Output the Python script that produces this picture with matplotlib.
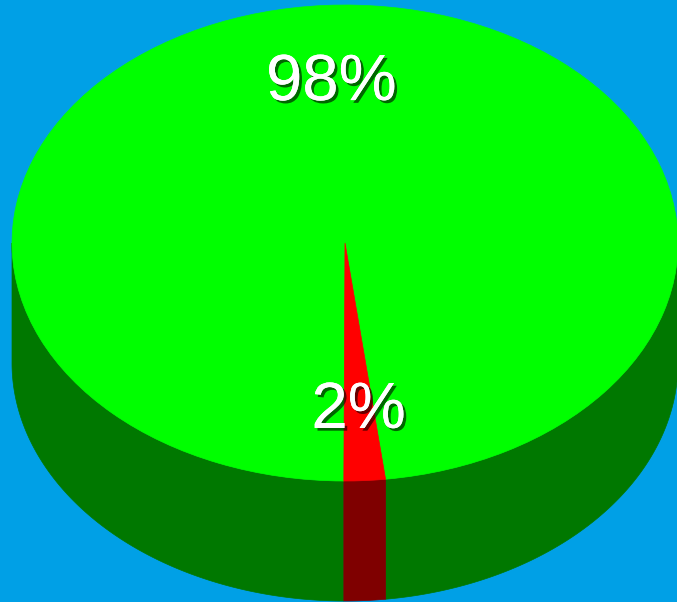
import numpy as np
import matplotlib.pyplot as plt
import matplotlib.patches as mpatches
import matplotlib.patheffects as pe
from matplotlib.transforms import Affine2D

# slice data
labels = ["98%", "2%"]
values = [98, 2]
top_colors = ["#00ff00", "#ff0000"]
side_colors = ["#007800", "#7f0000"]

BG = "#00a0e6"
W, H = 677, 602
cx, cy = 345, 243       # centre of the top face, pixels
rx, ry = 333, 238       # ellipse half-axes
depth = 120             # height of the cylinder wall
start = -83.0           # degrees, counter-clockwise
label_r = 0.69

fig = plt.figure(figsize=(W / 100, H / 100), dpi=100)
fig.patch.set_facecolor(BG)
ax = fig.add_axes([0, 0, 1, 1])
ax.set_xlim(0, W)
ax.set_ylim(H, 0)
ax.axis("off")

fracs = np.array(values, dtype=float) / sum(values)
spans = fracs * 360
starts = start + np.concatenate([[0], np.cumsum(spans)[:-1]])


def ell(theta, dy=0.0):
    t = np.radians(theta)
    return cx + rx * np.cos(t), cy - ry * np.sin(t) + dy


# front walls: only the lower half of the ellipse is visible
for a0, sp, col in zip(starts, spans, side_colors):
    a1 = a0 + sp
    for k in range(-1, 2):
        lo = max(a0, 180 + 360 * k)
        hi = min(a1, 360 + 360 * k)
        if hi <= lo:
            continue
        th = np.linspace(lo, hi, 200)
        xt, yt = ell(th)
        xb, yb = ell(th[::-1], depth)
        pts = np.column_stack([np.r_[xt, xb], np.r_[yt, yb]])
        ax.add_patch(mpatches.Polygon(pts, closed=True, facecolor=col,
                                      edgecolor=col, lw=0.5))

# top face wedges on a unit circle squashed into the ellipse
to_px = Affine2D().scale(rx, -ry).translate(cx, cy) + ax.transData
for a0, sp, col in zip(starts, spans, top_colors):
    w = mpatches.Wedge((0, 0), 1, a0, a0 + sp, facecolor=col,
                       edgecolor=col, lw=0.5, transform=to_px)
    ax.add_patch(w)

shadow = [pe.withSimplePatchShadow(offset=(2, -2), shadow_rgbFace="black",
                                   alpha=0.6), pe.Normal()]
for a0, sp, lab in zip(starts, spans, labels):
    x, y = ell(a0 + sp / 2)
    x = cx + (x - cx) * label_r
    y = cy + (y - cy) * label_r + 4
    ax.text(x, y, lab, color="white", fontsize=47, family="Liberation Sans",
            ha="center", va="center", path_effects=shadow)

fig.savefig("out.png", dpi=100, facecolor=BG)
